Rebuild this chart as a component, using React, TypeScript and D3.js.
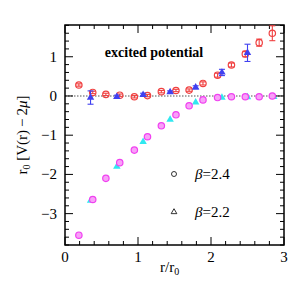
import React, { useEffect, useRef } from "react";
import * as d3 from "d3";

// r/r0 positions and values
const xB24 = [0.19, 0.38, 0.56, 0.75, 0.95, 1.13, 1.32, 1.52, 1.7, 1.89, 2.09, 2.28, 2.47, 2.66, 2.84];
const upperB24 = [0.28, 0.09, 0.04, 0.02, -0.02, 0.01, 0.11, 0.14, 0.15, 0.32, 0.53, 0.79, 1.07, 1.36, 1.6];
const upperErrB24 = [0.03, 0.03, 0.03, 0.03, 0.03, 0.03, 0.03, 0.03, 0.03, 0.04, 0.05, 0.05, 0.07, 0.09, 0.19];
const lowerB24 = [-3.55, -2.64, -2.1, -1.7, -1.38, -1.04, -0.76, -0.48, -0.25, -0.1, -0.04, -0.02, -0.02, -0.02, 0.0];

const xB22 = [0.35, 0.71, 1.07, 1.44, 1.79, 2.15, 2.5];
const upperB22 = [-0.04, -0.02, 0.03, 0.1, 0.22, 0.6, 1.1];
const upperErrB22 = [0.17, 0.04, 0.04, 0.03, 0.04, 0.08, 0.22];
const xB22low = [0.35, 0.71, 1.07, 1.44, 1.79, 2.15, 2.5, 2.86];
const lowerB22 = [-2.67, -1.8, -1.17, -0.6, -0.16, -0.04, -0.03, -0.02];

const xTicks = [0, 1, 2, 3];
const yTicks = [-3, -2, -1, 0, 1];

export default function App() {
  const ref = useRef<SVGSVGElement>(null);

  useEffect(() => {
    const svg = d3.select(ref.current);
    svg.selectAll("*").remove();

    const L = 65, R = 284, T = 25, B = 245;
    const x = d3.scaleLinear().domain([0, 3]).range([L, R]);
    const y = d3.scaleLinear().domain([-3.8, 1.81]).range([B, T]);

    const font = '"Liberation Serif", "Times New Roman", "DejaVu Serif", serif';
    svg.style("font-family", font);

    // zero line
    svg.append("line")
      .attr("x1", L).attr("x2", R)
      .attr("y1", y(0)).attr("y2", y(0))
      .attr("stroke", "#555").attr("stroke-width", 1.2)
      .attr("stroke-dasharray", "1.5,1.5");

    // ticks, inward on all sides
    const g = svg.append("g").attr("stroke", "#000").attr("stroke-width", 1);
    d3.range(0, 3.001, 0.2).forEach(v => {
      const major = Math.abs(v - Math.round(v)) < 1e-6;
      const len = major ? 8 : 4;
      g.append("line").attr("x1", x(v)).attr("x2", x(v)).attr("y1", B).attr("y2", B - len);
      g.append("line").attr("x1", x(v)).attr("x2", x(v)).attr("y1", T).attr("y2", T + len);
    });
    d3.range(-3.8, 1.81, 0.2).forEach(v => {
      const major = Math.abs(v - Math.round(v)) < 1e-6;
      const len = major ? 8 : 4;
      g.append("line").attr("x1", L).attr("x2", L + len).attr("y1", y(v)).attr("y2", y(v));
      g.append("line").attr("x1", R).attr("x2", R - len).attr("y1", y(v)).attr("y2", y(v));
    });

    svg.append("rect")
      .attr("x", L).attr("y", T).attr("width", R - L).attr("height", B - T)
      .attr("fill", "none").attr("stroke", "#000").attr("stroke-width", 1.5);

    svg.selectAll(".xt").data(xTicks).enter().append("text")
      .attr("x", d => x(d)).attr("y", B + 17)
      .attr("text-anchor", "middle").style("font-size", "15px")
      .text(d => d);
    svg.selectAll(".yt").data(yTicks).enter().append("text")
      .attr("x", L - 8).attr("y", d => y(d) + 5)
      .attr("text-anchor", "end").style("font-size", "15px")
      .text(d => (d < 0 ? "\u2212" + Math.abs(d) : d));

    // error bars
    const errBars = (xs: number[], ys: number[], es: number[], color: string) => {
      xs.forEach((xv, i) => {
        const e = es[i];
        const gg = svg.append("g").attr("stroke", color).attr("stroke-width", 1.1);
        gg.append("line").attr("x1", x(xv)).attr("x2", x(xv)).attr("y1", y(ys[i] - e)).attr("y2", y(ys[i] + e));
        gg.append("line").attr("x1", x(xv) - 3).attr("x2", x(xv) + 3).attr("y1", y(ys[i] - e)).attr("y2", y(ys[i] - e));
        gg.append("line").attr("x1", x(xv) - 3).attr("x2", x(xv) + 3).attr("y1", y(ys[i] + e)).attr("y2", y(ys[i] + e));
      });
    };
    const circles = (xs: number[], ys: number[], color: string, fill: string) => {
      svg.append("g").selectAll("circle").data(xs).enter().append("circle")
        .attr("cx", d => x(d)).attr("cy", (_d, i) => y(ys[i])).attr("r", 3.2)
        .attr("fill", fill).attr("stroke", color).attr("stroke-width", 1.2);
    };
    const tri = d3.symbol().type(d3.symbolTriangle).size(24);
    const triangles = (xs: number[], ys: number[], color: string) => {
      svg.append("g").selectAll("path").data(xs).enter().append("path")
        .attr("d", tri)
        .attr("transform", (d, i) => `translate(${x(d)},${y(ys[i])})`)
        .attr("fill", color);
    };

    errBars(xB24, upperB24, upperErrB24, "#f04040");
    circles(xB24, upperB24, "#f04040", "none");
    triangles(xB22low, lowerB22, "#30e8f0");
    circles(xB24, lowerB24, "#f040f0", "#f8a0f8");
    errBars(xB22, upperB22, upperErrB22, "#4040f0");
    triangles(xB22, upperB22, "#4040f0");

    svg.append("text")
      .attr("x", 154).attr("y", 57).attr("text-anchor", "middle")
      .style("font-size", "14px").style("font-weight", "bold")
      .text("excited potential");

    // legend
    svg.append("circle").attr("cx", 174).attr("cy", 174).attr("r", 2.5)
      .attr("fill", "none").attr("stroke", "#000").attr("stroke-width", 0.8);
    svg.append("path").attr("d", d3.symbol().type(d3.symbolTriangle).size(14))
      .attr("transform", "translate(174,212)").attr("fill", "none")
      .attr("stroke", "#000").attr("stroke-width", 0.8);
    const leg: [string, number][] = [["2.4", 179], ["2.2", 217]];
    leg.forEach(([v, yy]) => {
      const t = svg.append("text").attr("x", 195).attr("y", yy).style("font-size", "15px");
      t.append("tspan").style("font-style", "italic").text("\u03b2");
      t.append("tspan").text("=" + v);
    });

    // axis labels
    const xl = svg.append("text").attr("x", 160).attr("y", 272).style("font-size", "15px");
    xl.append("tspan").text("r/r");
    xl.append("tspan").style("font-size", "10px").attr("dy", 3).text("0");

    const yl = svg.append("text")
      .attr("transform", "translate(27,135) rotate(-90)")
      .attr("text-anchor", "middle").style("font-size", "15px");
    yl.append("tspan").text("r");
    yl.append("tspan").style("font-size", "10px").attr("dy", 3).text("0");
    yl.append("tspan").attr("dy", -3).text(" [V(r)\u2009\u2212\u20092");
    yl.append("tspan").style("font-style", "italic").text("\u03bc");
    yl.append("tspan").text("]");
  }, []);

  return (
    <div style={{ margin: -8 }}>
      <svg ref={ref} width={300} height={300} style={{ display: "block", background: "#fff" }} />
    </div>
  );
}
